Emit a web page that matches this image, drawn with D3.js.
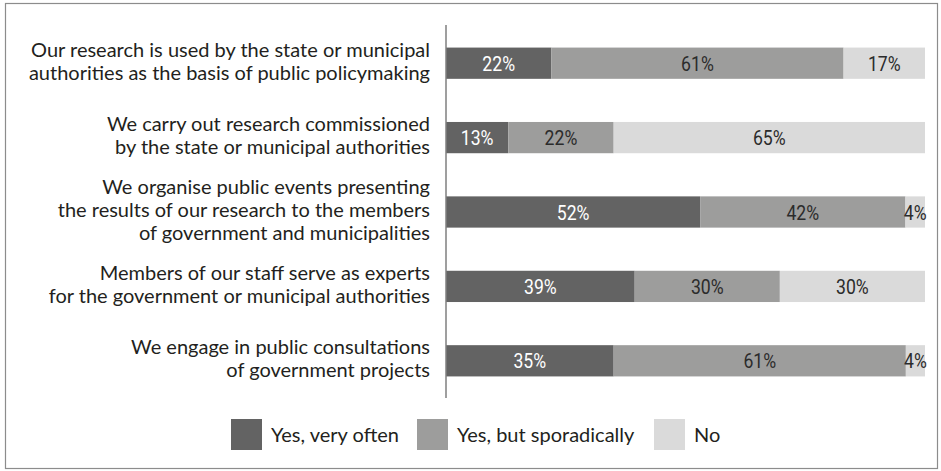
<!DOCTYPE html>
<html lang="en">
<head>
<meta charset="UTF-8">
<title>Cooperation with authorities</title>
<script src="https://d3js.org/d3.v7.min.js"></script>
<style>
  body { margin: 0; background: #fff; }
  svg { display: block; }
</style>
</head>
<body>
<svg width="941" height="471"></svg>
<script>
// chart data
var categories = [
  ["Our research is used by the state or municipal", "authorities as the basis of public policymaking"],
  ["We carry out research commissioned", "by the state or municipal authorities"],
  ["We organise public events presenting", "the results of our research to the members", "of government and municipalities"],
  ["Members of our staff serve as experts", "for the government or municipal authorities"],
  ["We engage in public consultations", "of government projects"]
];
var seriesNames = ["Yes, very often", "Yes, but sporadically", "No"];
var veryOften   = [22, 13, 52, 39, 35];
var sporadic    = [61, 22, 42, 30, 61];
var no          = [17, 65, 4, 30, 4];

var colors = ["#636363", "#9d9d9c", "#dadada"];
var labelColors = ["#ffffff", "#2b2b2b", "#2b2b2b"];

var svg = d3.select("svg");

// outer frame
svg.append("rect")
  .attr("x", 5.5).attr("y", 3.5)
  .attr("width", 932).attr("height", 465)
  .attr("fill", "none")
  .attr("stroke", "#8c8c8c")
  .attr("stroke-width", 1.2);

var x = d3.scaleLinear().domain([0, 1]).range([446, 925]);
var y = d3.scaleBand().domain(d3.range(categories.length)).range([26, 398]).paddingInner(0.58).paddingOuter(0.29);

// rows as stacked proportions
var rows = categories.map(function(c, i) {
  var vals = [veryOften[i], sporadic[i], no[i]];
  var total = d3.sum(vals);
  var acc = 0;
  return vals.map(function(v, k) {
    var seg = {row: i, k: k, value: v, x0: acc / total, x1: (acc + v) / total};
    acc += v;
    return seg;
  });
});

var bars = svg.append("g");
rows.forEach(function(segs) {
  bars.selectAll(null)
    .data(segs)
    .enter()
    .append("rect")
    .attr("x", function(d) { return x(d.x0); })
    .attr("y", function(d) { return y(d.row); })
    .attr("width", function(d) { return x(d.x1) - x(d.x0); })
    .attr("height", y.bandwidth())
    .attr("fill", function(d) { return colors[d.k]; });

  // condensed-looking percent labels
  bars.selectAll(null)
    .data(segs)
    .enter()
    .append("text")
    .attr("transform", function(d) {
      return "translate(" + (x(d.x0) + x(d.x1)) / 2 + "," + (y(d.row) + y.bandwidth() / 2) + ") scale(0.84,1)";
    })
    .attr("dy", "0.36em")
    .attr("text-anchor", "middle")
    .attr("font-family", "Roboto, sans-serif")
    .attr("font-size", "21px")
    .attr("fill", function(d) { return labelColors[d.k]; })
    .text(function(d) { return d.value + "%"; });
});

// vertical axis line
svg.append("line")
  .attr("x1", 446).attr("x2", 446)
  .attr("y1", 25).attr("y2", 398)
  .attr("stroke", "#7f7f7f")
  .attr("stroke-width", 1.5);

// category labels
var lineH = 23;
svg.append("g")
  .selectAll("text")
  .data(categories)
  .enter()
  .append("text")
  .attr("text-anchor", "end")
  .attr("font-family", "Lato, sans-serif")
  .attr("font-size", "20px")
  .attr("fill", "#231f20")
  .each(function(lines, i) {
    var cy = y(i) + y.bandwidth() / 2 - 2;
    var top = cy - (lines.length - 1) * lineH / 2;
    d3.select(this).selectAll("tspan")
      .data(lines)
      .enter()
      .append("tspan")
      .attr("x", 430)
      .attr("y", function(d, j) { return top + j * lineH; })
      .attr("dy", "0.35em")
      .text(function(d) { return d; });
  });

// legend
var legendX = [231, 417, 654];
var legend = svg.append("g")
  .selectAll("g")
  .data(seriesNames)
  .enter()
  .append("g")
  .attr("transform", function(d, i) { return "translate(" + legendX[i] + ",419)"; });

legend.append("rect")
  .attr("width", 31).attr("height", 31)
  .attr("fill", function(d, i) { return colors[i]; });

legend.append("text")
  .attr("x", 40)
  .attr("y", 15.5)
  .attr("dy", "0.35em")
  .attr("font-family", "Lato, sans-serif")
  .attr("font-size", "20px")
  .attr("fill", "#231f20")
  .text(function(d) { return d; });
</script>
</body>
</html>
